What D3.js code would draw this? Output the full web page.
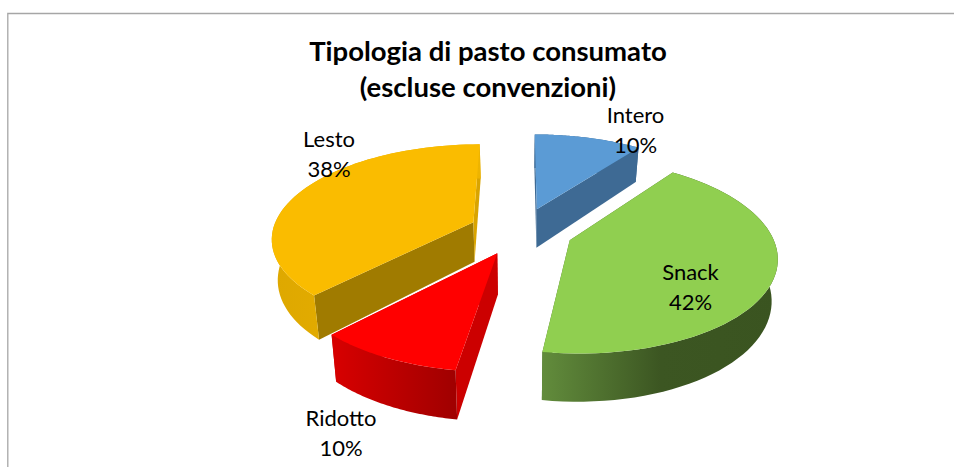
<!DOCTYPE html>
<html><head><meta charset="utf-8">
<script src="https://cdn.jsdelivr.net/npm/d3@7/dist/d3.min.js"></script>
<style>html,body{margin:0;padding:0;background:#fff}svg{display:block}
text{font-family:Lato,"Open Sans",sans-serif;fill:#000}</style></head>
<body><div id="c"></div>
<script>
const categories=["Intero","Snack","Ridotto","Lesto"];
const values=[10.2,42.2,9.7,37.9];
const percentLabels=["10%","42%","10%","38%"];
const titleLines=["Tipologia di pasto consumato","(escluse convenzioni)"];
const topColors=["#5b9bd5","#90cf50","#ff0000","#fabc00"];
const startCutColors=["#3e6a94","#4a6b2a","#cc0000","#a07b00"];
const endCutColors=["#3e6a94","#4a6b2a","#cc0000","#d9a400"];
const rimStops=[["#3e6a94","#3e6a94"],["#628c3c","#3c5622","#3a5420"],["#d80000","#a00000"],["#dea800","#eeb400"]];
const drawOrder=[0,1,3,2];
const labelX=[635.5,690.5,341,329];
const labelY=[123,280,426,147];

const W=954,H=467,cx=521,cy=231,R=201,E=52,tilt=.46,dist=1300,depth=40,converge=.0006;
const svg=d3.select("#c").append("svg").attr("width",W).attr("height",H);
const defs=svg.append("defs");
svg.append("path").attr("d","M7.8 467V13.5H954").attr("fill","none").attr("stroke","#a6a6a6").attr("stroke-width",1.3);

const pie=d3.pie().sort(null).value(d=>d);
const arcs=pie(values);
const persp=py=>dist/(dist+py);
const project=(px,py,z=0)=>{const f=persp(py);return [cx+px*f*(1-z*converge),cy-py*tilt*f+z*f];};
const line=d3.line();
const along=(d,a,r,z)=>{const m=(d.startAngle+d.endAngle)/2;
  return project(E*Math.sin(m)+r*Math.sin(a),E*Math.cos(m)+r*Math.cos(a),z);};
const rimAngles=d=>d3.range(0,61).map(i=>d3.interpolateNumber(d.startAngle,d.endAngle)(i/60));

drawOrder.forEach(i=>{
  const d=arcs[i],g=svg.append("g");
  const rimTop=rimAngles(d).map(a=>along(d,a,R,0));
  const rimBot=rimAngles(d).map(a=>along(d,a,R,depth)).reverse();
  const xs=rimTop.map(p=>p[0]);
  const grad=defs.append("linearGradient").attr("id","g"+i).attr("gradientUnits","userSpaceOnUse")
    .attr("x1",d3.min(xs)).attr("x2",d3.max(xs)).attr("y1",0).attr("y2",0);
  const stops=rimStops[i];
  grad.selectAll("stop").data(stops).join("stop").attr("offset",(c,k)=>k/(stops.length-1)).attr("stop-color",c=>c);
  [[d.startAngle,startCutColors[i]],[d.endAngle,endCutColors[i]]].forEach(([a,col])=>{
    const q=[along(d,a,0,0),along(d,a,R,0),along(d,a,R,depth),along(d,a,0,depth)];
    g.append("path").attr("d",line(q)+"Z").attr("fill",col);
  });
  g.append("path").attr("d",line(rimTop.concat(rimBot))+"Z").attr("fill",`url(#g${i})`);
  const top=[along(d,0,0,0)].concat(rimTop);
  g.append("path").attr("d",line(top)+"Z").attr("fill",topColors[i]);
});

const t=svg.append("text").attr("text-anchor","middle").attr("font-weight",700).attr("font-size",27.5);
titleLines.forEach((s,k)=>t.append("tspan").attr("x",488).attr("y",61+k*36).text(s));
categories.forEach((c,i)=>{
  const l=svg.append("text").attr("text-anchor","middle").attr("font-size",22);
  l.append("tspan").attr("x",labelX[i]).attr("y",labelY[i]).text(c);
  l.append("tspan").attr("x",labelX[i]).attr("y",labelY[i]+30).text(percentLabels[i]);
});
</script></body></html>
